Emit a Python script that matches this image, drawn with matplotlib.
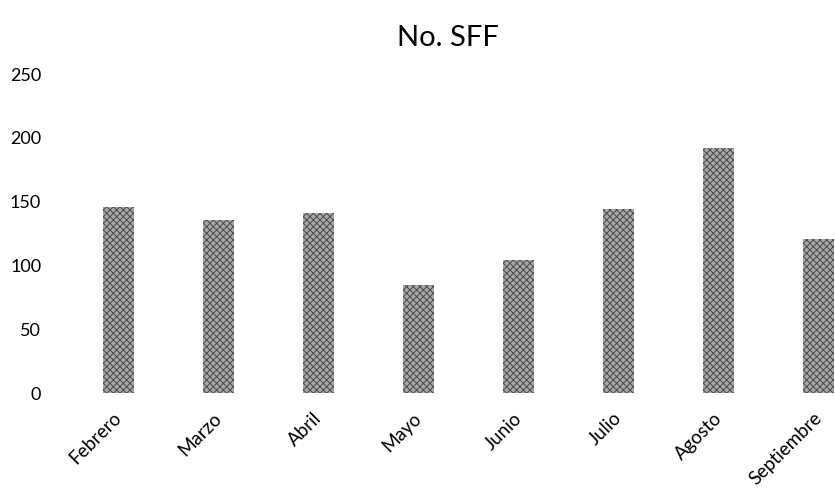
import matplotlib
matplotlib.use("Agg")
import matplotlib.pyplot as plt

meses = ["Febrero", "Marzo", "Abril", "Mayo", "Junio", "Julio", "Agosto", "Septiembre"]
sff = [146, 136, 141, 85, 104, 144, 192, 121]
yticks = [0, 50, 100, 150, 200, 250]

plt.rcParams['font.family'] = ['Lato', 'DejaVu Sans']
plt.rcParams['hatch.linewidth'] = 0.7

fig = plt.figure(figsize=(8.35, 5.04), dpi=100)
# axes runs past the right edge, so the last bar is clipped
ax = fig.add_axes([0.0826, 0.220, 0.958, 0.633])

x = range(len(meses))
# grey fill with a fine dark cross-hatch for the grainy look
ax.bar(x, sff, width=0.31, color="#a8a8a8", edgecolor="#4a4a4a",
       hatch="xxxxx", linewidth=0)

ax.set_ylim(0, 250)
ax.set_xlim(-0.5, len(meses) - 0.5)
ax.set_yticks(yticks)
ax.set_xticks(list(x))
ax.set_xticklabels(meses, rotation=45, ha="right", va="center",
                   rotation_mode="anchor", fontsize=13.5)
ax.tick_params(axis="y", labelsize=13, length=0, pad=20)
ax.tick_params(axis="x", length=0, pad=16)
for s in ax.spines.values():
    s.set_visible(False)

fig.text(0.536, 0.925, "No. SFF", ha="center", va="center", fontsize=21)

fig.savefig("out.png", dpi=100)
